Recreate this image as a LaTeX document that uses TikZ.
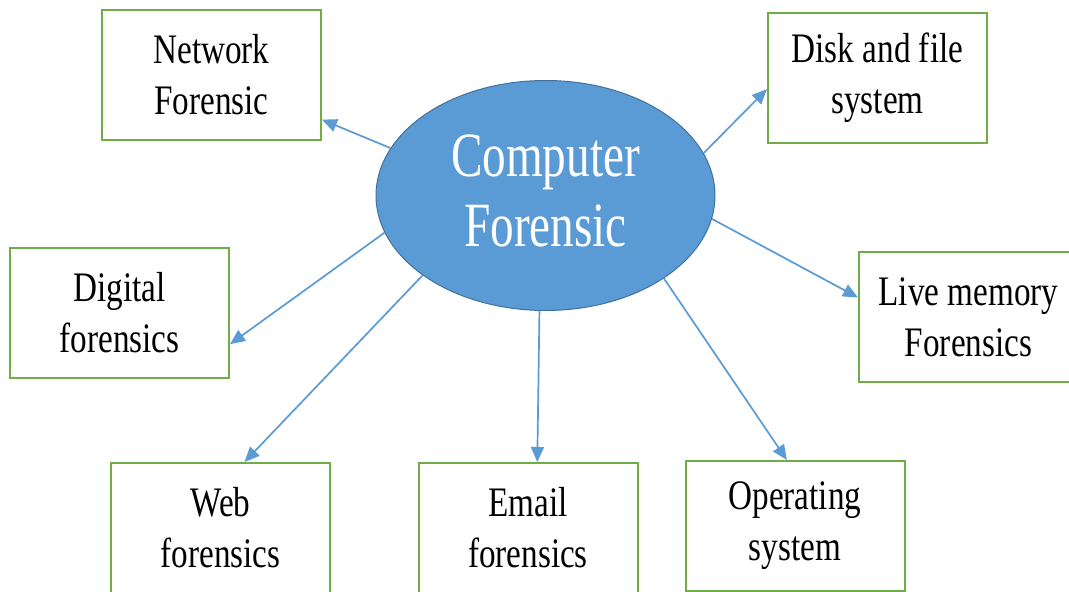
\documentclass[tikz,border=0pt]{standalone}
\usepackage{fontspec}
\setmainfont{Liberation Serif}
\newfontfamily\boxfont[FakeStretch=0.79]{Liberation Serif}
\newfontfamily\ellfont[FakeStretch=0.75]{Liberation Serif}
\usetikzlibrary{arrows.meta,shapes.geometric}
\definecolor{arrowblue}{HTML}{5B9BD5}
\definecolor{ellfill}{HTML}{5B9BD5}
\definecolor{elledge}{HTML}{41719C}
\definecolor{boxgreen}{HTML}{70AD47}
\begin{document}
\begin{tikzpicture}[x=1pt,y=-1pt,
  topic/.style={draw=boxgreen, line width=2pt, fill=white, minimum width=219pt, minimum height=130pt, inner sep=0pt, align=center, font=\boxfont\fontsize{42}{51}\selectfont},
  hub/.style={ellipse, draw=elledge, line width=1pt, fill=ellfill, minimum width=339pt, minimum height=230pt, inner sep=0pt},
  hubtext/.style={text=white, align=center, inner sep=0pt, font=\ellfont\fontsize{63}{70}\selectfont},
  link/.style={draw=arrowblue, line width=1.7pt, -{Triangle[length=15pt,width=13pt]}}]
\useasboundingbox[fill=white] (0,0) rectangle (1069,592);

\node[hub] (c) at (545.5,195.5) {};
\node[hubtext] (ct) at (545.5,191) {Computer\\Forensic};

\node[topic] (net)   at (211.5,75)    {Network\\Forensic};
\node[topic] (disk)  at (877.5,77.5)  {Disk and file\\system};
\node[topic] (dig)   at (119.5,312.5) {Digital\\forensics};
\node[topic] (live)  at (968.5,317)   {Live memory\\Forensics};
\node[topic] (web)   at (220.5,528)   {Web\\forensics};
\node[topic] (email) at (528,528)     {Email\\forensics};
\node[topic] (os)    at (795,526)     {Operating\\system};

\draw[link] (c.163.2) -- (net.-22.6);
\draw[link] (c.15.2)  -- (disk.186.1);
\draw[link] (c.193.8) -- (dig.-16.4);
\draw[link] (c.213.5) -- (web.70.9);
\draw[link] (c.267.9) -- (email.82.1);
\draw[link] (c.325.4) -- (os.97.9);
\draw[link] (c.-8)    -- (live.170.1);
\end{tikzpicture}
\end{document}
